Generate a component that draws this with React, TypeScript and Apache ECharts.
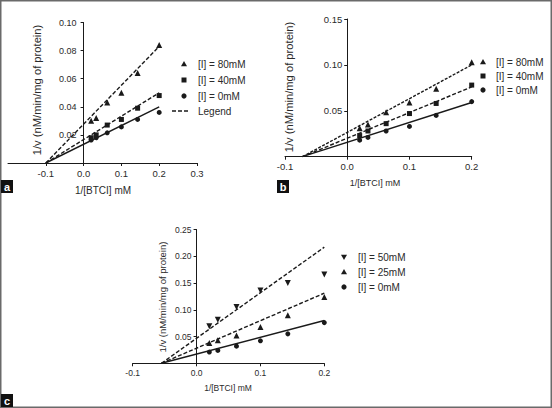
import React, { useEffect, useRef } from "react";
import * as echarts from "echarts";

// ---- data ----
const xVals = [0.02, 0.0333, 0.0625, 0.1, 0.1429, 0.2];

// panel a
const aNames = ["[I] = 80mM", "[I] = 40mM", "[I] = 0mM", "Legend"];
const a80 = [0.03, 0.032, 0.043, 0.05, 0.064, 0.084];
const a40 = [0.018, 0.02, 0.027, 0.031, 0.039, 0.048];
const a0 = [0.0163, 0.018, 0.0215, 0.0257, 0.031, 0.036];
const aIntercept = -0.1;
const aFitEnd = [0.083, 0.05, 0.04];
const aXTicks = [-0.1, 0, 0.1, 0.2, 0.3];
const aYTicks = [0.02, 0.04, 0.06, 0.08, 0.1];

// panel b
const bNames = ["[I] = 80mM", "[I] = 40mM", "[I] = 0mM"];
const b80 = [0.031, 0.035, 0.0485, 0.059, 0.074, 0.103];
const b40 = [0.023, 0.028, 0.036, 0.047, 0.058, 0.078];
const b0 = [0.018, 0.021, 0.028, 0.033, 0.045, 0.06];
const bIntercept = -0.072;
const bFitEnd = [0.1, 0.076, 0.059];
const bXTicks = [-0.1, 0, 0.1, 0.2];
const bYTicks = [0.05, 0.1, 0.15];

// panel c
const cNames = ["[I] = 50mM", "[I] = 25mM", "[I] = 0mM"];
const c50 = [0.069, 0.0815, 0.105, 0.136, 0.15, 0.166];
const c25 = [0.038, 0.043, 0.052, 0.068, 0.09, 0.124];
const c0 = [0.021, 0.024, 0.032, 0.042, 0.055, 0.076];
const cIntercept = -0.055;
const cFitEnd = [0.217, 0.131, 0.08];
const cXTicks = [-0.1, 0, 0.1, 0.2];
const cYTicks = [0.05, 0.1, 0.15, 0.2, 0.25];

const yTitle = "1/v (nM/min/mg of protein)";
const xTitle = "1/[BTCI] mM";

const FONT = "Liberation Sans, Arial, sans-serif";
const INK = "#1a1a1a";
const TXT = "#2a2a2a";

export default function App() {
  const ref = useRef<HTMLDivElement>(null);
  useEffect(() => {
    if (!ref.current) return;
    const chart = echarts.init(ref.current, null, { renderer: "svg" });

    const grids = [
      { left: 8, top: 22.5, width: 189, height: 140.5 },
      { left: 285, top: 19, width: 186.7, height: 137.7 },
      { left: 132.7, top: 229.5, width: 191.6, height: 133.8 },
    ];
    const xRanges = [
      [-0.2, 0.3],
      [-0.1, 0.2],
      [-0.1, 0.2],
    ];
    // distance (px) from the grid's left edge to x = 0, so the y axis sits on x = 0
    const zeroOffset = (gi: number) => {
      const [mn, mx] = xRanges[gi];
      return -((0 - mn) / (mx - mn)) * grids[gi].width;
    };

    const mkX = (gi: number, ticks: number[], fs: number, margin: number) => ({
      type: "value",
      gridIndex: gi,
      min: xRanges[gi][0],
      max: xRanges[gi][1],
      interval: 0.1,
      axisLine: { show: true, onZero: true, lineStyle: { color: INK, width: 1 } },
      axisTick: { show: true, inside: false, length: 3, lineStyle: { color: INK }, customValues: ticks },
      axisLabel: {
        show: true,
        fontSize: fs,
        color: TXT,
        fontFamily: FONT,
        margin,
        customValues: ticks,
        formatter: (v: number) => (v < -0.15 ? "" : v.toFixed(1)),
      },
      splitLine: { show: false },
    });
    const mkY = (gi: number, max: number, interval: number, ticks: number[], fs: number, margin: number) => ({
      type: "value",
      gridIndex: gi,
      position: "left",
      offset: zeroOffset(gi),
      min: 0,
      max,
      interval,
      axisLine: { show: true, onZero: false, lineStyle: { color: INK, width: 1 } },
      axisTick: { show: true, inside: false, length: 3, lineStyle: { color: INK }, customValues: ticks },
      axisLabel: {
        show: true,
        fontSize: fs,
        color: TXT,
        fontFamily: FONT,
        margin,
        customValues: ticks,
        formatter: (v: number) => (v === 0 ? "" : v.toFixed(2)),
      },
      splitLine: { show: false },
    });

    const pts = (ys: number[]) => xVals.map((x, i) => [x, ys[i]]);
    const scatter = (gi: number, ys: number[], symbol: string, size: number, rotate = 0) => ({
      type: "scatter",
      xAxisIndex: gi,
      yAxisIndex: gi,
      data: pts(ys),
      symbol,
      symbolSize: size,
      symbolRotate: rotate,
      itemStyle: { color: INK, opacity: 1 },
      silent: true,
    });
    const fit = (gi: number, x0: number, yEnd: number, dash: any) => ({
      type: "line",
      xAxisIndex: gi,
      yAxisIndex: gi,
      data: [
        [x0, 0],
        [0.2, yEnd],
      ],
      showSymbol: false,
      symbol: "none",
      lineStyle: { color: INK, width: 1.4, type: dash },
      silent: true,
    });

    const dashed: any = [4, 2];
    const dotted: any = [3, 1.5];

    const series = [
      fit(0, aIntercept, aFitEnd[0], dashed),
      fit(0, aIntercept, aFitEnd[1], dashed),
      fit(0, aIntercept, aFitEnd[2], "solid"),
      scatter(0, a80, "triangle", 6),
      scatter(0, a40, "rect", 5),
      scatter(0, a0, "circle", 5),
      fit(1, bIntercept, bFitEnd[0], dotted),
      fit(1, bIntercept, bFitEnd[1], dashed),
      fit(1, bIntercept, bFitEnd[2], "solid"),
      scatter(1, b80, "triangle", 6),
      scatter(1, b40, "rect", 5),
      scatter(1, b0, "circle", 5),
      fit(2, cIntercept, cFitEnd[0], dashed),
      fit(2, cIntercept, cFitEnd[1], dashed),
      fit(2, cIntercept, cFitEnd[2], "solid"),
      scatter(2, c50, "triangle", 6, 180),
      scatter(2, c25, "triangle", 6),
      scatter(2, c0, "circle", 5),
    ];

    const tri = (cx: number, cy: number, s: number, down = false) => ({
      type: "polygon",
      shape: {
        points: down
          ? [
              [cx - s / 2, cy - s / 2.6],
              [cx + s / 2, cy - s / 2.6],
              [cx, cy + s / 2],
            ]
          : [
              [cx - s / 2, cy + s / 2.6],
              [cx + s / 2, cy + s / 2.6],
              [cx, cy - s / 2],
            ],
      },
      style: { fill: INK },
    });
    const sq = (cx: number, cy: number, s: number) => ({
      type: "rect",
      shape: { x: cx - s / 2, y: cy - s / 2, width: s, height: s },
      style: { fill: INK },
    });
    const dot = (cx: number, cy: number, r: number) => ({
      type: "circle",
      shape: { cx, cy, r },
      style: { fill: INK },
    });
    const txt = (x: number, y: number, text: string, fs: number, align = "left", rotation = 0) => ({
      type: "text",
      x,
      y,
      rotation,
      style: {
        text,
        fontSize: fs,
        fontFamily: FONT,
        fill: TXT,
        align,
        verticalAlign: "middle",
      },
    });
    const panelLabel = (x: number, y: number, letter: string) => [
      { type: "rect", shape: { x, y, width: 12, height: 13 }, style: { fill: "#111" } },
      {
        type: "text",
        x: x + 6,
        y: y + 6.5,
        style: {
          text: letter,
          fontSize: 11,
          fontWeight: "bold",
          fontFamily: FONT,
          fill: "#fff",
          align: "center",
          verticalAlign: "middle",
        },
      },
    ];

    const graphic: any[] = [
      {
        type: "rect",
        shape: { x: 0.75, y: 0.75, width: 550.5, height: 406.5 },
        style: { fill: "none", stroke: "#6a6a6a", lineWidth: 1.5 },
      },
      ...panelLabel(1, 180, "a"),
      ...panelLabel(277, 180, "b"),
      ...panelLabel(1, 394, "c"),
      // axis titles
      txt(37, 90, yTitle, 11.2, "center", Math.PI / 2),
      txt(289, 87, yTitle, 11.2, "center", Math.PI / 2),
      txt(162, 297, yTitle, 9.5, "center", Math.PI / 2),
      txt(103, 190, xTitle, 10, "center"),
      txt(375, 183, xTitle, 9, "center"),
      txt(228, 388, xTitle, 8.5, "center"),
      // legend a
      tri(184, 64, 6),
      txt(198, 64, aNames[0], 10),
      sq(184, 80, 5),
      txt(198, 80, aNames[1], 10),
      dot(184, 96, 2.6),
      txt(198, 96, aNames[2], 10),
      {
        type: "line",
        shape: { x1: 172, y1: 111, x2: 189, y2: 111 },
        style: { stroke: INK, lineWidth: 1.4, lineDash: [4, 2] },
      },
      txt(198, 111, aNames[3], 10),
      // legend b
      tri(483, 62, 6),
      txt(496, 62, bNames[0], 10),
      sq(483, 76, 5),
      txt(496, 76, bNames[1], 10),
      dot(483, 90, 2.6),
      txt(496, 90, bNames[2], 10),
      // legend c
      tri(344, 257, 6, true),
      txt(358, 257, cNames[0], 10),
      tri(344, 272, 6),
      txt(358, 272, cNames[1], 10),
      dot(344, 287, 2.6),
      txt(358, 287, cNames[2], 10),
    ];

    chart.setOption({
      animation: false,
      backgroundColor: "#ffffff",
      grid: grids,
      xAxis: [
        mkX(0, aXTicks, 9.5, 5),
        mkX(1, bXTicks, 9.5, 5),
        mkX(2, cXTicks, 8.5, 5),
      ],
      yAxis: [
        mkY(0, 0.1, 0.02, aYTicks, 9, 7),
        mkY(1, 0.15, 0.05, bYTicks, 9.5, 5),
        mkY(2, 0.25, 0.05, cYTicks, 8.5, 5),
      ],
      series,
      graphic,
    });
    return () => chart.dispose();
  }, []);
  return (
    <div
      ref={ref}
      style={{ position: "absolute", left: 0, top: 0, width: 552, height: 408, background: "#fff" }}
    />
  );
}
